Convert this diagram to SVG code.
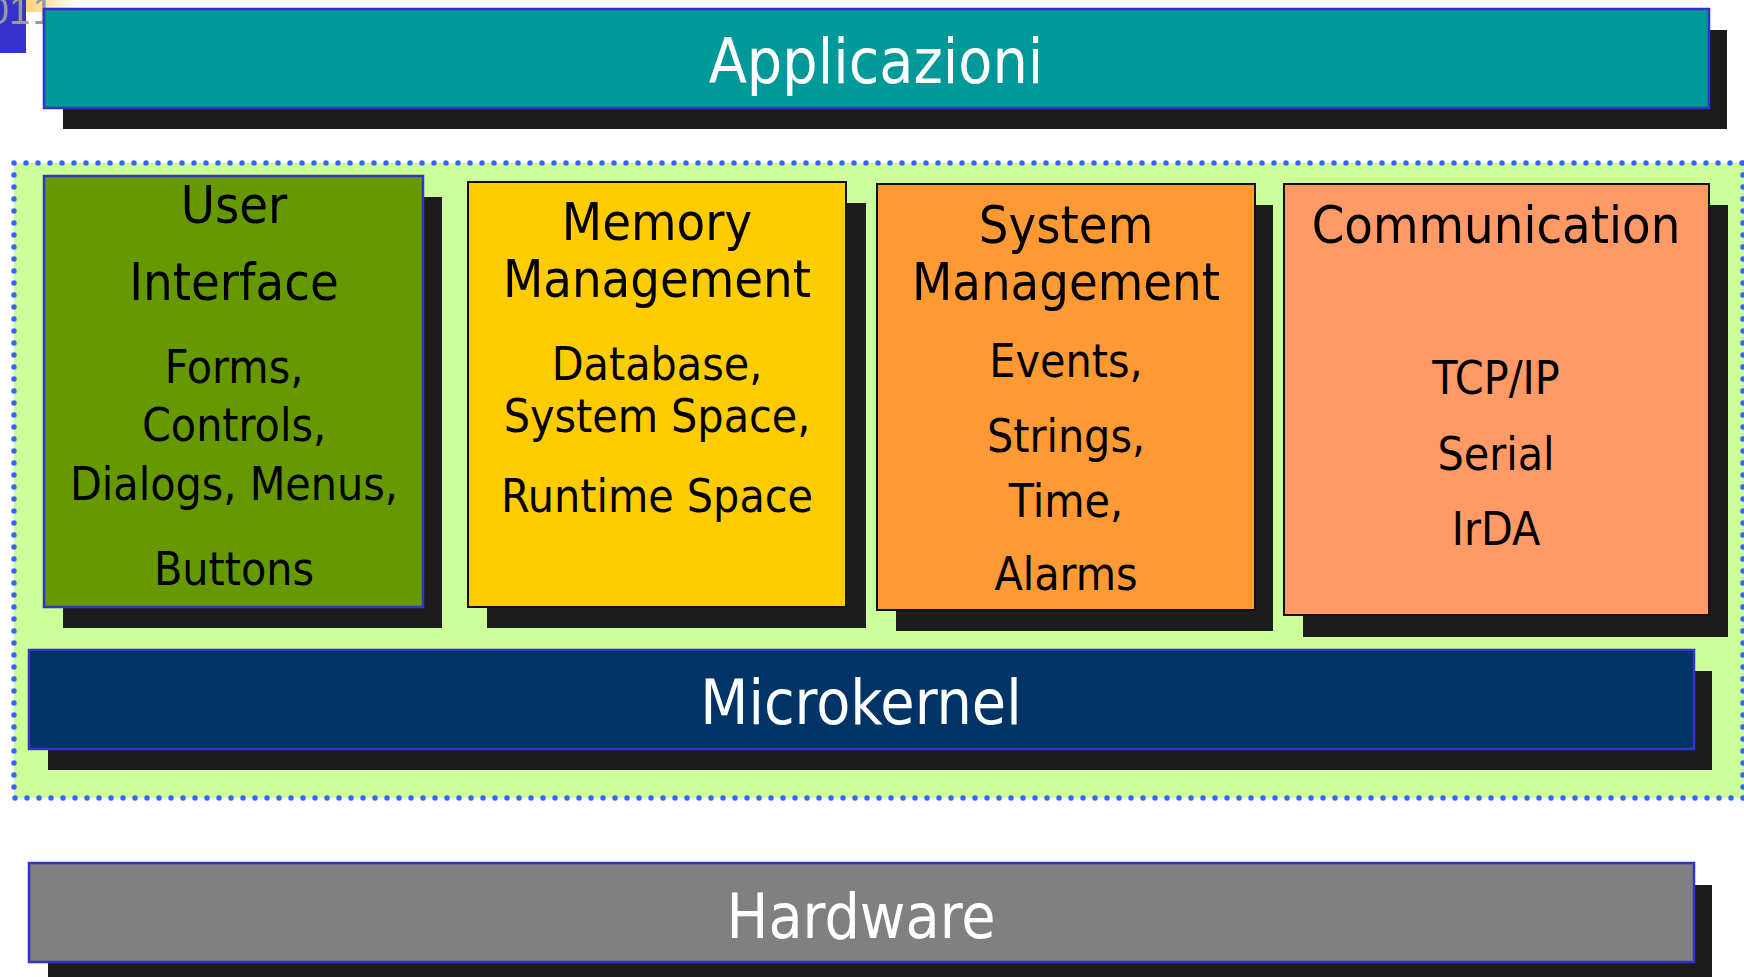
<svg xmlns="http://www.w3.org/2000/svg" width="1744" height="977" viewBox="0 0 1744 977">
<defs>
<linearGradient id="og" x1="0" y1="0" x2="1" y2="0">
<stop offset="0" stop-color="#ffd27a"/>
<stop offset="1" stop-color="#ffffff"/>
</linearGradient>
</defs>
<style>
.sh{fill:#1c1c1c}
.bb{stroke:#3333cc;stroke-width:2.5}
.kb{stroke:#111111;stroke-width:2}
text{font-family:"DejaVu Sans Condensed","Liberation Sans",sans-serif;text-anchor:middle}
.big{font-size:62px;fill:#ffffff}
.hd{font-size:52px;fill:#000000}
.bd{font-size:46px;fill:#000000}
.cn{font-size:38px;fill:#999999;font-family:"Liberation Sans",sans-serif}
</style>
<rect width="1744" height="977" fill="#ffffff"/>
<g id="corner">
<rect x="26" y="0" width="54" height="12" fill="url(#og)"/>
<rect x="0" y="0" width="26" height="53" fill="#3333cc"/>
<text class="cn" x="9" y="24">01</text>
<text class="cn" x="43" y="24">1</text>
</g>
<g id="applicazioni">
<rect class="sh" x="63" y="30" width="1664" height="99"/>
<rect class="bb" x="44" y="9" width="1665" height="99" fill="#009999"/>
<text class="big" x="876" y="83">Applicazioni</text>
</g>
<g id="os-area">
<rect x="14" y="163" width="1740" height="635" fill="#ccff99"/>
<path d="M14 163 H1744 M14 163 V798 H1744 M1743 163 V798" fill="none" stroke="#3366ff" stroke-width="5.5" stroke-linecap="round" stroke-dasharray="0 12"/>
</g>
<g id="user-interface">
<rect class="sh" x="63" y="197" width="379" height="431"/>
<rect class="bb" x="44" y="176" width="379" height="431" fill="#669900"/>
<text class="hd" x="234" y="223">User</text>
<text class="hd" x="234" y="300">Interface</text>
<text class="bd" x="234" y="383">Forms,</text>
<text class="bd" x="234" y="441">Controls,</text>
<text class="bd" x="234" y="500">Dialogs, Menus,</text>
<text class="bd" x="234" y="585">Buttons</text>
</g>
<g id="memory-management">
<rect class="sh" x="487" y="203" width="379" height="425"/>
<rect class="kb" x="468" y="182" width="378" height="425" fill="#ffcc00"/>
<text class="hd" x="657" y="240">Memory</text>
<text class="hd" x="657" y="297">Management</text>
<text class="bd" x="657" y="380">Database,</text>
<text class="bd" x="657" y="432">System Space,</text>
<text class="bd" x="657" y="512">Runtime Space</text>
</g>
<g id="system-management">
<rect class="sh" x="896" y="205" width="377" height="426"/>
<rect class="kb" x="877" y="184" width="378" height="426" fill="#ff9933"/>
<text class="hd" x="1066" y="243">System</text>
<text class="hd" x="1066" y="300">Management</text>
<text class="bd" x="1066" y="377">Events,</text>
<text class="bd" x="1066" y="452">Strings,</text>
<text class="bd" x="1066" y="517">Time,</text>
<text class="bd" x="1066" y="590">Alarms</text>
</g>
<g id="communication">
<rect class="sh" x="1303" y="205" width="425" height="432"/>
<rect class="kb" x="1284" y="184" width="425" height="431" fill="#ff9966"/>
<text class="hd" x="1496" y="243">Communication</text>
<text class="bd" x="1496" y="394">TCP/IP</text>
<text class="bd" x="1496" y="470">Serial</text>
<text class="bd" x="1496" y="545">IrDA</text>
</g>
<g id="microkernel">
<rect class="sh" x="48" y="671" width="1664" height="99"/>
<rect class="bb" x="29" y="650" width="1665" height="99" fill="#003366"/>
<text class="big" x="861" y="724">Microkernel</text>
</g>
<g id="hardware">
<rect class="sh" x="48" y="885" width="1664" height="99"/>
<rect class="bb" x="29" y="863" width="1665" height="99" fill="#808080"/>
<text class="big" x="861" y="938">Hardware</text>
</g>
<g id="connectors"></g>
</svg>
